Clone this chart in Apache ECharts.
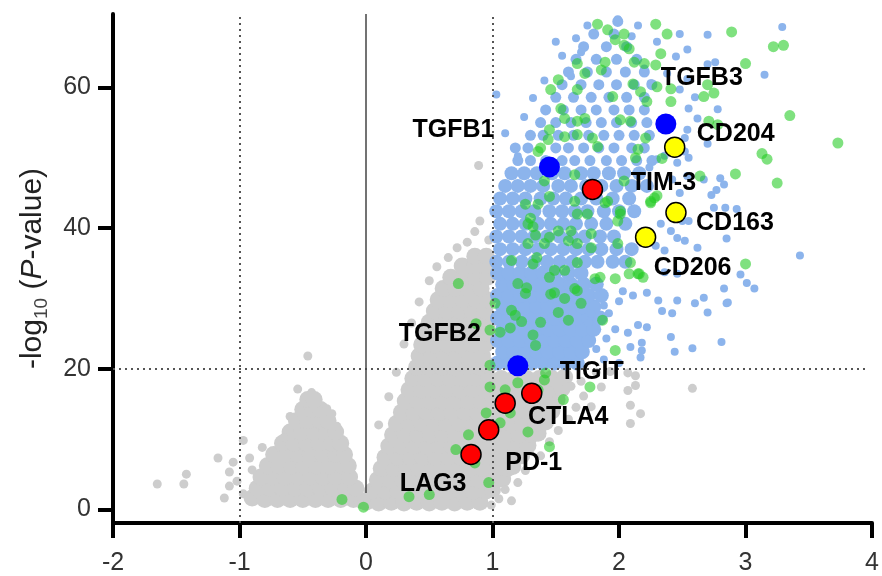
<!DOCTYPE html>
<html>
<head>
<meta charset="utf-8">
<script src="https://cdn.jsdelivr.net/npm/echarts@6/dist/echarts.min.js"></script>
<style>html,body{margin:0;padding:0;background:#fff}#c{width:882px;height:576px}</style>
</head>
<body>
<div id="c"></div>
<script>
// ---------------- DATA ----------------
var xTicks = [-2, -1, 0, 1, 2, 3, 4];
var yTicks = [0, 20, 40, 60];

// dense grey core (non-significant genes), left wing
var grayDenseLeft = [
[-0.9,1.6],[-0.8,1.4],[-0.7,1.4],[-0.6,1.4],[-0.5,1.4],[-0.4,1.4],[-0.3,1.4],[-0.2,1.4],[-0.1,1.4],[-0.03,1.2],
[-0.86,3.0],[-0.76,3.0],[-0.66,3.0],[-0.56,3.0],[-0.46,3.0],[-0.36,3.0],[-0.26,3.0],[-0.16,3.0],[-0.08,3.0],
[-0.83,4.6],[-0.74,4.6],[-0.64,4.6],[-0.54,4.6],[-0.44,4.6],[-0.34,4.6],[-0.24,4.6],[-0.13,4.6],
[-0.78,6.2],[-0.69,6.2],[-0.59,6.2],[-0.49,6.2],[-0.39,6.2],[-0.29,6.2],[-0.19,6.2],[-0.14,6.2],
[-0.73,7.8],[-0.64,7.8],[-0.54,7.8],[-0.44,7.8],[-0.34,7.8],[-0.24,7.8],[-0.17,7.8],
[-0.66,9.4],[-0.57,9.4],[-0.47,9.4],[-0.37,9.4],[-0.27,9.4],[-0.2,9.4],
[-0.6,11.0],[-0.51,11.0],[-0.41,11.0],[-0.31,11.0],[-0.24,11.0],
[-0.55,12.6],[-0.46,12.6],[-0.36,12.6],[-0.3,12.6],
[-0.5,14.2],[-0.42,14.2],[-0.36,14.2],
[-0.46,15.6],[-0.41,15.6]
];
// dense grey core, right wing
var grayDenseRight = [
[0.0,1.0],[0.1,0.9],[0.2,1.0],[0.3,0.9],[0.4,1.0],[0.5,0.9],[0.6,1.0],[0.7,0.9],[0.8,1.0],[0.9,1.0],
[0.05,2.6],[0.15,2.6],[0.25,2.6],[0.35,2.6],[0.45,2.6],[0.55,2.6],[0.65,2.6],[0.75,2.6],[0.85,2.6],[0.95,2.6],[1.0,2.8],
[0.09,4.2],[0.19,4.2],[0.29,4.2],[0.39,4.2],[0.49,4.2],[0.59,4.2],[0.69,4.2],[0.79,4.2],[0.89,4.2],[0.99,4.2],[1.08,4.3],
[0.12,5.8],[0.22,5.8],[0.32,5.8],[0.42,5.8],[0.52,5.8],[0.62,5.8],[0.72,5.8],[0.82,5.8],[0.92,5.8],[1.02,5.8],[1.12,5.8],[1.16,6.1],
[0.15,7.4],[0.25,7.4],[0.35,7.4],[0.45,7.4],[0.55,7.4],[0.65,7.4],[0.75,7.4],[0.85,7.4],[0.95,7.4],[1.05,7.4],[1.15,7.4],[1.23,7.6],
[0.18,9.0],[0.28,9.0],[0.38,9.0],[0.48,9.0],[0.58,9.0],[0.68,9.0],[0.78,9.0],[0.88,9.0],[0.98,9.0],[1.08,9.0],[1.18,9.0],[1.28,9.1],
[0.21,10.6],[0.31,10.6],[0.41,10.6],[0.51,10.6],[0.61,10.6],[0.71,10.6],[0.81,10.6],[0.91,10.6],[1.01,10.6],[1.11,10.6],[1.21,10.6],[1.31,10.6],[1.36,10.8],
[0.24,12.2],[0.34,12.2],[0.44,12.2],[0.54,12.2],[0.64,12.2],[0.74,12.2],[0.84,12.2],[0.94,12.2],[1.04,12.2],[1.14,12.2],[1.24,12.2],[1.34,12.2],[1.42,12.4],
[0.28,13.8],[0.38,13.8],[0.48,13.8],[0.58,13.8],[0.68,13.8],[0.78,13.8],[0.88,13.8],[0.98,13.8],[1.08,13.8],[1.18,13.8],[1.28,13.8],[1.38,13.8],[1.47,14.0],
[0.31,15.4],[0.41,15.4],[0.51,15.4],[0.61,15.4],[0.71,15.4],[0.81,15.4],[0.91,15.4],[1.01,15.4],[1.11,15.4],[1.21,15.4],[1.31,15.4],[1.41,15.4],[1.51,15.6],
[0.34,17.0],[0.44,17.0],[0.54,17.0],[0.64,17.0],[0.74,17.0],[0.84,17.0],[0.94,17.0],[1.04,17.0],[1.14,17.0],[1.24,17.0],[1.34,17.0],[1.44,17.0],[1.55,17.2],
[0.37,18.6],[0.47,18.6],[0.57,18.6],[0.67,18.6],[0.77,18.6],[0.87,18.6],[0.97,18.6],[1.07,18.6],[1.17,18.6],[1.27,18.6],[1.37,18.6],[1.47,18.6],[1.57,18.8],
[0.4,20.2],[0.5,20.2],[0.6,20.2],[0.7,20.2],[0.8,20.2],[0.9,20.2],[0.97,20.4],
[0.42,21.8],[0.52,21.8],[0.62,21.8],[0.72,21.8],[0.82,21.8],[0.92,21.8],
[0.44,23.4],[0.54,23.4],[0.64,23.4],[0.74,23.4],[0.84,23.4],[0.94,23.4],
[0.47,25.0],[0.57,25.0],[0.67,25.0],[0.77,25.0],[0.87,25.0],[0.96,25.0],
[0.5,26.6],[0.6,26.6],[0.7,26.6],[0.8,26.6],[0.9,26.6],[0.97,26.8],
[0.54,28.2],[0.64,28.2],[0.74,28.2],[0.84,28.2],[0.94,28.2],
[0.57,29.8],[0.67,29.8],[0.77,29.8],[0.87,29.8],[0.96,29.8],
[0.61,31.4],[0.71,31.4],[0.81,31.4],[0.91,31.4],
[0.67,33.0],[0.77,33.0],[0.87,33.0],[0.96,33.0],
[0.76,34.6],[0.86,34.6],[0.95,34.6],
[0.86,36.0],[0.95,36.0]
];
// scattered grey genes
var graySparse = [
[-1.65,3.6],[-1.44,3.6],[-1.42,5.0],[-1.17,7.3],[-1.12,1.6],[-1.08,5.3],[-1.08,3.3],[-1.05,6.7],[-1.02,4.0],
[-0.97,9.8],[-0.92,7.3],[-0.82,8.8],[-0.65,10.2],[-0.54,17.1],[-0.43,16.6],[-0.46,21.8],[-0.31,14.3],[-0.23,11.8],
[-0.97,2.2],[-0.9,5.6],[-0.6,13.2],[-0.27,13.6],
[1.2,3.8],[1.26,5.5],[1.38,7.6],[1.45,9.6],[1.52,11.2],[1.6,12.8],[1.66,14.5],[1.72,16.1],[1.78,14.6],[1.86,17.4],
[1.93,19.6],[1.7,18.2],[1.82,19.5],[2.09,12.2],[2.17,13.6],[2.07,16.9],[2.13,19.0],[2.58,17.2],[1.62,17.5],
[1.05,1.5],[1.1,2.8],[0.99,0.6],[1.15,1.2],[2.07,19.4],[2.13,17.6],[2.09,14.8],
[0.3,23.5],[0.36,26.5],[0.42,29.5],[0.5,32.5],[0.56,34.5],[0.65,35.8],[0.72,37.2],[0.86,39.5],[0.97,38.3],
[0.8,38.0],[0.9,41.0],[0.89,48.9],[0.24,19.5],[0.18,16.0],[0.1,12.0]
];
// significant genes (light blue), dense core
var blueDense = [
[1.04,20.8],[1.13,20.8],[1.22,20.8],[1.31,20.8],[1.4,20.8],[1.49,20.8],[1.58,20.8],[1.67,20.8],
[1.08,22.4],[1.17,22.4],[1.26,22.4],[1.35,22.4],[1.44,22.4],[1.53,22.4],[1.62,22.4],[1.71,22.4],
[1.04,24.0],[1.13,24.0],[1.22,24.0],[1.31,24.0],[1.4,24.0],[1.49,24.0],[1.58,24.0],[1.67,24.0],[1.76,24.0],
[1.08,25.6],[1.17,25.6],[1.26,25.6],[1.35,25.6],[1.44,25.6],[1.53,25.6],[1.62,25.6],[1.71,25.6],[1.8,25.6],
[1.04,27.2],[1.13,27.2],[1.22,27.2],[1.31,27.2],[1.4,27.2],[1.49,27.2],[1.58,27.2],[1.67,27.2],[1.76,27.2],[1.85,27.2],
[1.08,28.8],[1.17,28.8],[1.26,28.8],[1.35,28.8],[1.44,28.8],[1.53,28.8],[1.62,28.8],[1.71,28.8],[1.8,28.8],
[1.04,30.4],[1.13,30.4],[1.22,30.4],[1.31,30.4],[1.4,30.4],[1.49,30.4],[1.58,30.4],[1.67,30.4],[1.76,30.4],[1.86,30.4],
[1.08,32.0],[1.17,32.0],[1.26,32.0],[1.35,32.0],[1.44,32.0],[1.53,32.0],[1.62,32.0],[1.72,32.0],[1.82,32.0],
[1.04,33.6],[1.13,33.6],[1.22,33.6],[1.31,33.6],[1.4,33.6],[1.49,33.6],[1.6,33.6],[1.7,33.6]
];
// significant genes (light blue), medium density band (lower part)
var blueMidLow = [
[1.03,35.2],[1.13,35.2],[1.23,35.2],[1.33,35.2],[1.43,35.2],[1.53,35.2],[1.63,35.2],[1.73,35.2],[1.83,35.2],[1.95,35.2],[2.05,35.2],
[1.06,37.0],[1.16,37.0],[1.26,37.0],[1.36,37.0],[1.46,37.0],[1.56,37.0],[1.66,37.0],[1.76,37.0],[1.86,37.0],[1.98,37.0],[2.1,37.0],
[1.03,38.8],[1.13,38.8],[1.23,38.8],[1.33,38.8],[1.43,38.8],[1.53,38.8],[1.63,38.8],[1.73,38.8],[1.85,38.8],[1.96,38.8],
[1.06,40.6],[1.16,40.6],[1.26,40.6],[1.36,40.6],[1.46,40.6],[1.56,40.6],[1.66,40.6],[1.78,40.6],[1.9,40.6],[2.05,40.6],
[1.03,42.4],[1.13,42.4],[1.23,42.4],[1.33,42.4],[1.45,42.4],[1.55,42.4],[1.65,42.4],[1.75,42.4],[1.88,42.4],[2.0,42.4],[2.12,42.4],
[1.06,44.2],[1.16,44.2],[1.26,44.2],[1.38,44.2],[1.48,44.2],[1.58,44.2],[1.7,44.2],[1.82,44.2],[1.95,44.2],[2.08,44.2],
[1.1,46.0],[1.2,46.0],[1.3,46.0],[1.4,46.0],[1.52,46.0],[1.62,46.0],[1.74,46.0],[1.86,46.0],[1.98,46.0],[2.1,46.0],[2.22,46.0],
[1.15,47.8],[1.25,47.8],[1.35,47.8],[1.47,47.8],[1.57,47.8],[1.7,47.8],[1.8,47.8],[1.92,47.8],[2.04,47.8],[2.16,47.8]
];
// significant genes (light blue), medium density band (upper part)
var blueMidHigh = [
[1.2,49.6],[1.3,49.6],[1.42,49.6],[1.55,49.6],[1.65,49.6],[1.77,49.6],[1.9,49.6],[2.02,49.6],[2.14,49.6],[2.26,49.6],
[1.18,51.4],[1.28,51.4],[1.5,51.4],[1.6,51.4],[1.72,51.4],[1.84,51.4],[1.96,51.4],[2.1,51.4],[2.2,51.4],
[1.3,53.2],[1.4,53.2],[1.52,53.2],[1.64,53.2],[1.76,53.2],[1.88,53.2],[2.0,53.2],[2.12,53.2],[2.24,53.2],
[1.38,55.0],[1.5,55.0],[1.62,55.0],[1.74,55.0],[1.86,55.0],[1.98,55.0],[2.1,55.0],[2.22,55.0],
[1.42,56.8],[1.56,56.8],[1.7,56.8],[1.82,56.8],[1.96,56.8],[2.08,56.8],[2.2,56.8],
[1.5,58.6],[1.64,58.6],[1.78,58.6],[1.92,58.6],[2.06,58.6],[2.2,58.6],
[1.55,60.4],[1.7,60.4],[1.84,60.4],[1.98,60.4],[2.12,60.4],[2.26,60.4],
[1.6,62.2],[1.75,62.2],[1.9,62.2],[2.05,62.2],[2.2,62.2],
[1.66,64.0],[1.82,64.0],[1.98,64.0],[2.14,64.0],
[1.72,65.8],[1.9,65.8],[2.06,65.8],
[1.8,67.6],[1.96,67.6],
[1.99,69.4]
];
// significant genes (light blue), scattered
var blueSparse = [
[3.29,68.6],[2.7,67.5],[2.48,67.6],[3.15,61.8],[2.76,63.6],[2.78,56.9],[2.55,57.0],[2.62,55.6],[2.54,54.0],[2.7,52.0],
[2.52,52.8],[2.8,47.1],[2.83,46.2],[2.67,46.9],[2.48,45.0],[2.75,42.9],[2.84,42.9],[2.93,42.7],[2.85,38.5],[2.62,37.2],
[2.52,38.2],[2.46,38.6],[2.29,37.5],[2.36,36.8],[3.43,36.1],[3.01,32.2],[3.07,31.4],[2.83,31.4],[2.96,33.4],[2.36,33.7],
[2.46,33.5],[2.85,29.3],[2.67,30.1],[2.6,29.3],[2.46,29.7],[2.52,50.9],[2.55,50.0],[2.3,49.8],[2.24,48.6],[2.46,49.3],
[2.36,50.3],[2.77,45.4],[2.73,44.7],[2.5,41.0],[2.55,41.0],[2.33,40.6],[2.41,39.6],[2.54,47.4],[2.42,46.9],[2.45,64.4],
[2.54,65.4],[2.7,63.3],[2.54,61.2],[2.38,62.0],[2.48,59.7],[2.6,58.6],[2.2,62.7],[2.25,60.6],
[2.81,23.8],[2.58,22.9],[2.44,22.4],[2.17,21.6],[2.18,22.6],[2.09,23.1],[2.18,23.7],[2.41,24.5],[2.86,29.4],[2.7,28.0],
[2.42,27.9],[2.34,28.2],[2.22,25.9],[2.15,26.2],[2.07,25.1],[1.97,25.6],[1.92,27.9],[1.78,27.8],[1.76,26.5],[1.88,29.0],
[2.0,29.6],[2.03,31.0],[2.11,30.4],[2.22,30.8],[2.31,29.7],[2.0,20.8],[1.88,21.3],[1.82,22.8],[1.9,24.3],
[1.03,59.0],[1.2,50.2],[1.41,61.0],[1.66,67.0],[1.99,69.7],[1.1,53.5],[1.25,55.8],[1.32,58.5],[1.55,64.5],[1.5,66.5],
[1.75,68.8],[2.15,68.8],[2.1,67.3],[2.3,66.5],[1.62,61.6],[1.7,65.0]
];
// genes of interest set (green)
var greenPts = [
[1.83,69.0],[1.91,68.2],[1.97,66.8],[2.04,67.6],[2.04,66.0],[2.08,65.5],[2.29,69.0],[2.38,67.6],[2.33,64.8],[2.2,63.4],
[2.12,63.6],[2.29,63.2],[1.67,63.4],[1.73,62.0],[1.89,63.6],[1.86,62.5],[2.11,60.5],[2.17,59.4],[2.22,58.0],[2.41,58.0],
[1.46,59.7],[1.52,61.1],[1.67,59.7],[1.54,57.0],[1.57,55.6],[1.67,55.2],[1.73,55.6],[1.95,58.7],[1.45,54.0],[1.44,52.6],
[1.57,53.0],[1.79,52.8],[1.83,51.6],[1.36,50.9],[2.01,55.4],[2.09,55.2],[2.15,51.2],[2.34,49.9],[2.04,46.7],[1.67,53.3],
[2.3,60.1],[2.41,59.8],[2.89,67.9],[3.22,65.8],[3.3,66.0],[3.0,63.4],[2.67,58.7],[2.75,59.2],[2.7,60.4],[3.35,56.0],
[2.78,54.7],[2.71,55.2],[3.73,52.1],[3.13,50.6],[3.17,49.8],[2.92,47.7],[2.64,47.4],[3.25,46.4],[2.25,43.6],[2.3,44.6],
[3.0,34.9],[2.15,33.5],[2.21,52.8],[1.38,51.4],[1.41,46.7],[1.45,44.5],[1.65,47.6],[1.91,43.8],[2.13,50.0],[2.28,44.3],
[2.01,42.0],[1.26,43.4],[1.3,41.4],[1.65,43.8],[1.67,42.0],[1.52,39.6],[1.28,37.8],[1.6,38.2],[1.78,39.2],[1.99,37.8],
[2.08,33.5],[2.19,33.0],[1.15,35.4],[0.73,32.1],[1.2,32.1],[1.46,30.6],[1.67,31.1],[1.85,33.0],[1.36,43.4],[1.28,40.6],
[1.32,40.2],[1.34,39.0],[1.35,35.8],[1.32,34.9],[1.45,38.7],[1.41,37.8],[1.62,39.6],[1.67,37.8],[1.78,37.2],[1.75,42.0],
[1.89,43.6],[2.01,42.4],[1.99,41.0],[2.25,43.8],[1.45,33.0],[1.49,34.0],[1.57,34.0],[1.67,35.1],[1.49,30.8],[1.57,30.0],
[1.65,31.4],[1.81,32.8],[1.97,32.8],[2.09,35.1],[2.16,33.5],[1.02,29.3],[1.18,27.6],[1.38,26.6],[1.52,28.0],[1.6,26.9],
[1.87,26.9],[0.98,25.5],[1.06,25.2],[1.32,24.8],[1.34,23.3],[1.97,22.6],[0.98,20.5],[1.42,19.4],[1.14,25.8],[1.23,26.7],
[1.26,30.7],[1.7,29.3],[0.87,26.4],[0.98,17.4],[1.1,17.0],[0.95,13.7],[1.14,13.7],[0.81,10.6],[1.06,12.3],[0.71,8.5],
[0.86,6.6],[0.97,3.8],[0.34,1.8],[0.5,2.1],[-0.02,0.3],[-0.19,1.4],[1.2,18.0],[1.41,18.4],[1.36,17.0],[1.28,11.0],
[1.45,8.9],[1.56,15.6],[1.77,17.4],[1.15,28.3],[1.27,31.5]
];
// highlighted genes
var hlNames = ['TGFB1','TGFB2','TGFB3','TIM-3','TIGIT','CTLA4','PD-1','LAG3','CD204','CD163','CD206'];
var hlGroup = ['tgfb','tgfb','tgfb','checkpoint','checkpoint','checkpoint','checkpoint','checkpoint','macrophage','macrophage','macrophage'];
var hlX = [1.45, 1.20, 2.37, 1.79, 1.31, 1.10, 0.97, 0.83, 2.44, 2.45, 2.21];
var hlY = [48.7, 20.4, 54.8, 45.5, 16.5, 15.1, 11.3, 7.8, 51.5, 42.2, 38.7];

// ---------------- STYLE / LAYOUT ----------------
var groupStyle = {
  tgfb: {color:'#0000ff', borderColor:'#0000ff', borderWidth:0, size:21},
  checkpoint: {color:'#ff0000', borderColor:'#000000', borderWidth:1.5, size:20},
  macrophage: {color:'#ffff00', borderColor:'#000000', borderWidth:1.5, size:20}
};
var labelOffset = {
  'TGFB1':[-96,-37], 'TGFB2':[-78,-32], 'TGFB3':[36,-46], 'TIM-3':[71,-6], 'TIGIT':[60,-21],
  'CTLA4':[63,14], 'PD-1':[45,33], 'LAG3':[-38,30], 'CD204':[61,-13], 'CD163':[59,11], 'CD206':[47,31]
};
var FONT = '"Liberation Sans", Arial, Helvetica, sans-serif';

var hlData = hlNames.map(function(n,i){
  var g = groupStyle[hlGroup[i]];
  return {
    value:[hlX[i], hlY[i]], name:n, symbolSize:g.size,
    itemStyle:{color:g.color, borderColor:g.borderColor, borderWidth:g.borderWidth, opacity:1},
    label:{show:true, formatter:n, position:'inside', offset:labelOffset[n],
      color:'#000', fontSize:25, fontWeight:'bold', fontFamily:FONT}
  };
});

var chart = echarts.init(document.getElementById('c'), null, {renderer:'canvas'});
chart.setOption({
  animation:false,
  backgroundColor:'#ffffff',
  grid:{left:113, right:7, top:14, bottom:53, containLabel:false},
  xAxis:{
    type:'value', min:-2, max:4, interval:1,
    axisLine:{onZero:false, lineStyle:{color:'#000', width:4}},
    axisTick:{show:true, length:15, lineStyle:{color:'#000', width:4}},
    axisLabel:{color:'#333', fontSize:25, margin:28, fontFamily:FONT,
      formatter:function(v){ return xTicks.indexOf(v) >= 0 ? String(v) : ''; }},
    splitLine:{show:false}
  },
  yAxis:{
    type:'value', min:-1.95, max:70.45,
    axisLine:{onZero:false, lineStyle:{color:'#000', width:4}},
    axisTick:{show:true, length:15, customValues:yTicks, lineStyle:{color:'#000', width:4}},
    axisLabel:{color:'#333', fontSize:25, margin:22, fontFamily:FONT, customValues:yTicks},
    splitLine:{show:false},
    name:'-log{sub|10} ({it|P}-value)',
    nameLocation:'middle', nameRotate:90, nameGap:62,
    nameTextStyle:{color:'#222', fontSize:30, fontFamily:FONT, lineHeight:36,
      rich:{
        sub:{fontSize:19, color:'#444', fontFamily:FONT, verticalAlign:'bottom', lineHeight:20},
        it:{fontSize:30, fontStyle:'italic', color:'#222', fontFamily:FONT, lineHeight:36}
      }}
  },
  series:[
    {type:'scatter', data:[], z:1, silent:true,
      markLine:{silent:true, symbol:['none','none'], label:{show:false}, animation:false,
        data:[
          [{coord:[-1,-1.95], lineStyle:{color:'#555', width:2, type:[2,4]}},{coord:[-1,70.45]}],
          [{coord:[1,-1.95], lineStyle:{color:'#555', width:2, type:[2,4]}},{coord:[1,70.45]}],
          [{coord:[-2,20], lineStyle:{color:'#555', width:2, type:[2,4]}},{coord:[3.96,20]}],
          [{coord:[0,2.3], lineStyle:{color:'#444', width:1.5, type:'solid'}},{coord:[0,70.45]}]
        ]}},
    {type:'scatter', data:grayDenseLeft, symbolSize:17, z:2, silent:true, itemStyle:{color:'#cdcdcd', opacity:1}},
    {type:'scatter', data:grayDenseRight, symbolSize:17, z:2, silent:true, itemStyle:{color:'#cdcdcd', opacity:1}},
    {type:'scatter', data:graySparse, symbolSize:9, z:2, silent:true, itemStyle:{color:'#cdcdcd', opacity:1}},
    {type:'scatter', data:blueDense, symbolSize:15, z:3, silent:true, itemStyle:{color:'#8cb4ec', opacity:1}},
    {type:'scatter', data:blueMidLow, symbolSize:14, z:3, silent:true, itemStyle:{color:'#8cb4ec', opacity:1}},
    {type:'scatter', data:blueMidHigh, symbolSize:11, z:3, silent:true, itemStyle:{color:'#8cb4ec', opacity:1}},
    {type:'scatter', data:blueSparse, symbolSize:8, z:3, silent:true, itemStyle:{color:'#8cb4ec', opacity:1}},
    {type:'scatter', data:greenPts, symbolSize:11, z:4, silent:true, itemStyle:{color:'#22cc22', opacity:0.58}},
    {type:'scatter', data:hlData, z:5, silent:true}
  ]
});
</script>
</body>
</html>
